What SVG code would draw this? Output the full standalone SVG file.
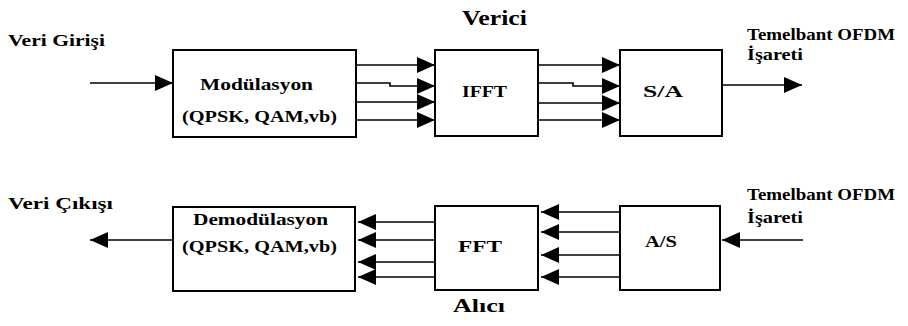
<svg xmlns="http://www.w3.org/2000/svg" width="908" height="326" viewBox="0 0 908 326">
<style>
text{font-family:"Liberation Serif","Times New Roman",serif;font-weight:bold;fill:#000}
.box{fill:#fff;stroke:#000;stroke-width:2}
.ln{fill:none;stroke:#000;stroke-width:1.6}
</style>
<defs>
<marker id="ah" viewBox="0 0 18 16" refX="18" refY="8" markerWidth="18" markerHeight="16" markerUnits="userSpaceOnUse" orient="auto">
<path d="M0,0 L18,8 L0,16 Z" fill="#000"/>
</marker>
</defs>
<text x="8" y="46" font-size="17" textLength="97" lengthAdjust="spacingAndGlyphs">Veri Girişi</text>
<text x="462" y="25" font-size="21" textLength="65" lengthAdjust="spacingAndGlyphs">Verici</text>
<text x="747" y="40" font-size="17" textLength="148" lengthAdjust="spacingAndGlyphs">Temelbant OFDM</text>
<text x="747" y="60" font-size="17" textLength="56" lengthAdjust="spacingAndGlyphs">İşareti</text>
<text x="8" y="209" font-size="17" textLength="105" lengthAdjust="spacingAndGlyphs">Veri Çıkışı</text>
<text x="747" y="200" font-size="17" textLength="148" lengthAdjust="spacingAndGlyphs">Temelbant OFDM</text>
<text x="747" y="223" font-size="17" textLength="56" lengthAdjust="spacingAndGlyphs">İşareti</text>
<text x="453" y="312" font-size="19" textLength="52" lengthAdjust="spacingAndGlyphs">Alıcı</text>
<g id="mod"><rect class="box" x="173" y="50" width="183" height="87"/>
<text x="200" y="90" font-size="17" textLength="113" lengthAdjust="spacingAndGlyphs">Modülasyon</text>
<text x="182" y="122" font-size="17" textLength="155" lengthAdjust="spacingAndGlyphs">(QPSK, QAM,vb)</text></g>
<g id="ifft"><rect class="box" x="435" y="50" width="103" height="86"/>
<text x="462" y="97" font-size="17" textLength="45" lengthAdjust="spacingAndGlyphs">IFFT</text></g>
<g id="sa"><rect class="box" x="620" y="50" width="102" height="86"/>
<text x="643" y="97" font-size="17" textLength="40" lengthAdjust="spacingAndGlyphs">S/A</text></g>
<g id="demod"><rect class="box" x="173" y="207" width="182" height="84"/>
<text x="193" y="225" font-size="17" textLength="135" lengthAdjust="spacingAndGlyphs">Demodülasyon</text>
<text x="182" y="252" font-size="17" textLength="155" lengthAdjust="spacingAndGlyphs">(QPSK, QAM,vb)</text></g>
<g id="fft"><rect class="box" x="435" y="206" width="103" height="84"/>
<text x="458" y="252" font-size="17" textLength="44" lengthAdjust="spacingAndGlyphs">FFT</text></g>
<g id="as"><rect class="box" x="620" y="206" width="100" height="84"/>
<text x="645" y="247" font-size="17" textLength="32" lengthAdjust="spacingAndGlyphs">A/S</text></g>
<g id="connectors">
<path class="ln" d="M90,83 H173" marker-end="url(#ah)"/>
<path class="ln" d="M356,65 H435" marker-end="url(#ah)"/>
<path class="ln" d="M356,83 H390 V86 H435" marker-end="url(#ah)"/>
<path class="ln" d="M356,102 H435" marker-end="url(#ah)"/>
<path class="ln" d="M356,120 H435" marker-end="url(#ah)"/>
<path class="ln" d="M538,65 H620" marker-end="url(#ah)"/>
<path class="ln" d="M538,83 H573 V86 H620" marker-end="url(#ah)"/>
<path class="ln" d="M538,103 H620" marker-end="url(#ah)"/>
<path class="ln" d="M538,120 H620" marker-end="url(#ah)"/>
<path class="ln" d="M722,85 H802" marker-end="url(#ah)"/>
<path class="ln" d="M803,240 H722" marker-end="url(#ah)"/>
<path class="ln" d="M620,212 H541" marker-end="url(#ah)"/>
<path class="ln" d="M620,232 H541" marker-end="url(#ah)"/>
<path class="ln" d="M620,255 H541" marker-end="url(#ah)"/>
<path class="ln" d="M620,277 H541" marker-end="url(#ah)"/>
<path class="ln" d="M435,222 H358" marker-end="url(#ah)"/>
<path class="ln" d="M435,240 H358" marker-end="url(#ah)"/>
<path class="ln" d="M435,262 H358" marker-end="url(#ah)"/>
<path class="ln" d="M435,277 H358" marker-end="url(#ah)"/>
<path class="ln" d="M173,240 H90" marker-end="url(#ah)"/>
</g>
</svg>
